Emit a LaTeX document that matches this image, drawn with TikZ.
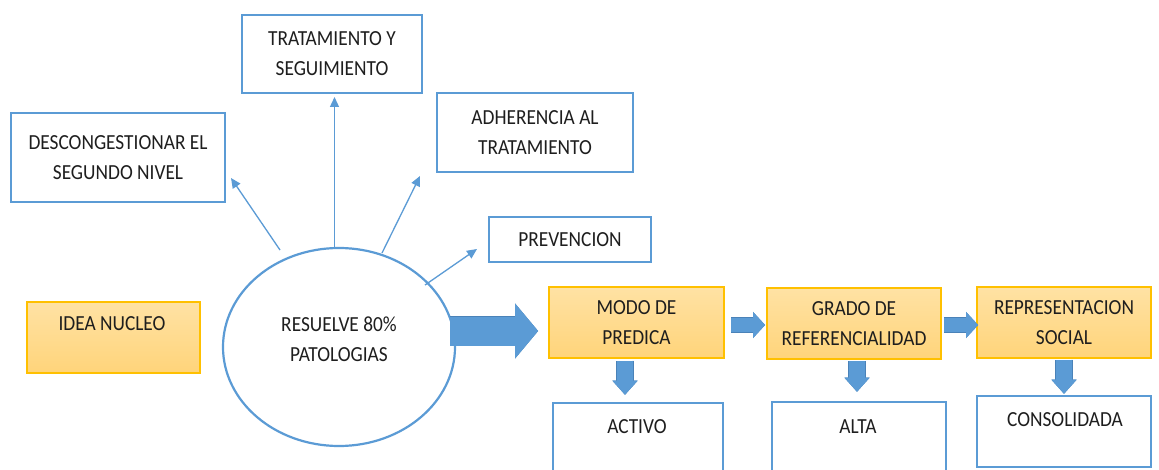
\documentclass[tikz,border=0pt]{standalone}
\usepackage{fontspec}
\setmainfont{Carlito}[FakeStretch=0.9]
\usetikzlibrary{arrows.meta,shapes.geometric,calc}
\definecolor{bl}{HTML}{5B9BD5}
\definecolor{bldk}{HTML}{4A82B8}
\definecolor{org}{HTML}{FFC000}
\definecolor{orgtop}{HTML}{FFE2A4}
\definecolor{orgbot}{HTML}{FFD47A}
\definecolor{txtc}{HTML}{1E1E1E}
\tikzset{
  lbl/.style={font=\fontsize{21.5}{30}\selectfont, text=txtc, inner sep=0pt, align=center},
  bbox/.style={draw=bl, line width=2.6pt, fill=white, rectangle, inner sep=0pt, lbl},
  obox/.style={draw=org, line width=2pt, top color=orgtop, bottom color=orgbot, rectangle, inner sep=0pt, lbl},
  thinarr/.style={draw=bl, line width=1.3pt, -{Triangle[length=10pt,width=9pt]}},
  blockarr/.style={draw=bl, line width=#1, line cap=butt,
     preaction={draw=bldk, line width=#1+1.4pt}},
  hhead/.style={-{Triangle[length=12pt,width=26pt,line width=0.1pt]}},
  vhead/.style={-{Triangle[length=14pt,width=25pt,line width=0.1pt]}},
  bighead/.style={-{Triangle[length=23pt,width=55pt,line width=0.1pt]}},
}
\begin{document}
\begin{tikzpicture}[x=1pt,y=-1pt]
\useasboundingbox (0,0) rectangle (1159,470);
\fill[white] (0,0) rectangle (1159,470);
\clip (0,0) rectangle (1159,470);

% top boxes
\node[bbox, minimum width=180pt, minimum height=78pt] (trat) at (332,54) {TRATAMIENTO Y\\SEGUIMIENTO};
\node[bbox, minimum width=214pt, minimum height=89pt] (desc) at (118,157.5) {DESCONGESTIONAR EL\\SEGUNDO NIVEL};
\node[bbox, minimum width=196pt, minimum height=79pt] (adh) at (535,132.5) {ADHERENCIA AL\\TRATAMIENTO};
\node[bbox, minimum width=162pt, minimum height=45pt] (prev) at (570,239.5) {PREVENCION};

% idea nucleo
\node[obox, minimum width=173pt, minimum height=71pt] (idea) at (113.5,337.5) {};
\node[lbl] (ideat) at (112,324) {IDEA NUCLEO};

% ellipse
\node[draw=bl, line width=2.2pt, ellipse, fill=white, inner sep=0pt, minimum width=232pt, minimum height=198pt] (ell) at (339,347) {};
\node[lbl] (ellt) at (339,339) {RESUELVE 80\%\\PATOLOGIAS};

% orange chain
\node[obox, minimum width=175pt, minimum height=71pt] (modo) at (636.5,322.5) {MODO DE\\PREDICA};
\node[obox, minimum width=174pt, minimum height=71pt] (grado) at (854,323.5) {GRADO DE\\REFERENCIALIDAD};
\node[obox, minimum width=174pt, minimum height=71pt] (repr) at (1064,322.5) {REPRESENTACION\\SOCIAL};

% bottom boxes
\node[bbox, minimum width=170pt, minimum height=87pt] (activo) at (638,446.5) {};
\node[lbl] (activot) at (637,427) {ACTIVO};
\node[bbox, minimum width=174pt, minimum height=88pt] (alta) at (859,446) {};
\node[lbl] (altat) at (858,427) {ALTA};
\node[bbox, minimum width=174pt, minimum height=71pt] (cons) at (1064,431.5) {};
\node[lbl] (const) at (1065,420) {CONSOLIDADA};

% thin arrows from ellipse
\coordinate (s1) at (280,250);
\coordinate (e1) at (231,178);
\coordinate (s2) at (334.5,248);
\coordinate (e2) at (334.5,97);
\coordinate (s3) at (382,253);
\coordinate (e3) at (420,176);
\coordinate (s4) at (425,285);
\coordinate (e4) at (477,249);
\draw[thinarr] (s1) -- (e1);
\draw[thinarr] (s2) -- (e2);
\draw[thinarr] (s3) -- (e3);
\draw[thinarr] (s4) -- (e4);

% big block arrow
\draw[blockarr=29pt, bighead] ([xshift=-6pt,yshift=16pt]ell.east) -- ([xshift=-10pt,yshift=-8.5pt]modo.west);

% horizontal block arrows
\draw[blockarr=14pt, hhead] ([xshift=6pt,yshift=-2.5pt]modo.east) -- ([xshift=-1pt,yshift=-1.5pt]grado.west);
\draw[blockarr=14pt, hhead] ([xshift=2pt,yshift=-1.5pt]grado.east) -- ([xshift=2pt,yshift=-2.5pt]repr.west);

% vertical block arrows
\draw[blockarr=16pt, vhead] ([xshift=-11.5pt,yshift=-1.5pt]modo.south) -- ([xshift=-13pt,yshift=7pt]activo.north);
\draw[blockarr=16pt, vhead] ([xshift=3pt,yshift=-1pt]grado.south) -- ([xshift=-2pt,yshift=9pt]alta.north);
\draw[blockarr=16pt, vhead] ([yshift=-0.5pt]repr.south) -- ([yshift=1pt]cons.north);
\end{tikzpicture}
\end{document}
